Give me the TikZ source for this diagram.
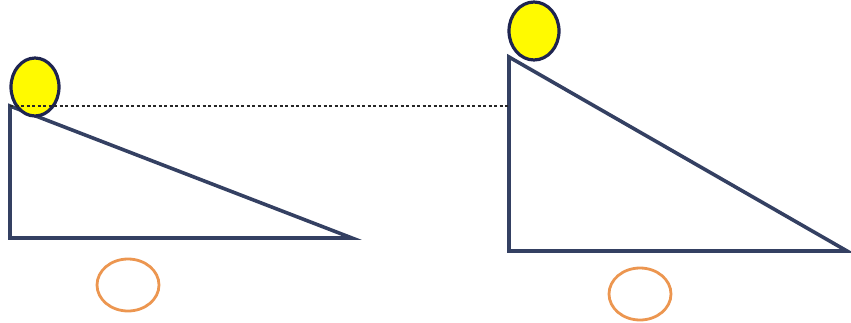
\documentclass[tikz,border=0pt]{standalone}
\usepackage{xcolor}
\usepackage{tikz}
\definecolor{navy}{RGB}{52,64,98}
\definecolor{ballline}{RGB}{30,36,80}
\definecolor{ballfill}{RGB}{255,250,0}
\definecolor{ring}{RGB}{236,150,80}
\begin{document}
\begin{tikzpicture}[x=1pt,y=-1pt,
ramp/.style={draw=navy,line width=3.6pt,line join=miter},
ball/.style={draw=ballline,fill=ballfill,line width=3.2pt},
wheel/.style={draw=ring,line width=2.8pt}]
\useasboundingbox (0,0) rectangle (851,322);
\coordinate (lt) at (10,106);
\coordinate (lb) at (10,238);
\coordinate (lr) at (352,238);
\coordinate (rt) at (509,57);
\coordinate (rb) at (509,251);
\coordinate (rr) at (847,251);
\coordinate (rm) at (509,106);
\draw[ramp] (lt) -- (lb) -- (lr) -- cycle;
\draw[ramp] (rt) -- (rb) -- (rr) -- cycle;
\draw[ball] (35,87) ellipse [x radius=24,y radius=29];
\draw[ball] (534,31) ellipse [x radius=25,y radius=29];
\draw[dash pattern=on 3pt off 2.5pt,line width=2.6pt,black!85] (lt) -- (rm);
\draw[wheel] (128,285) ellipse [x radius=31,y radius=26];
\draw[wheel] (640,294) ellipse [x radius=31,y radius=26];
\end{tikzpicture}
\end{document}
